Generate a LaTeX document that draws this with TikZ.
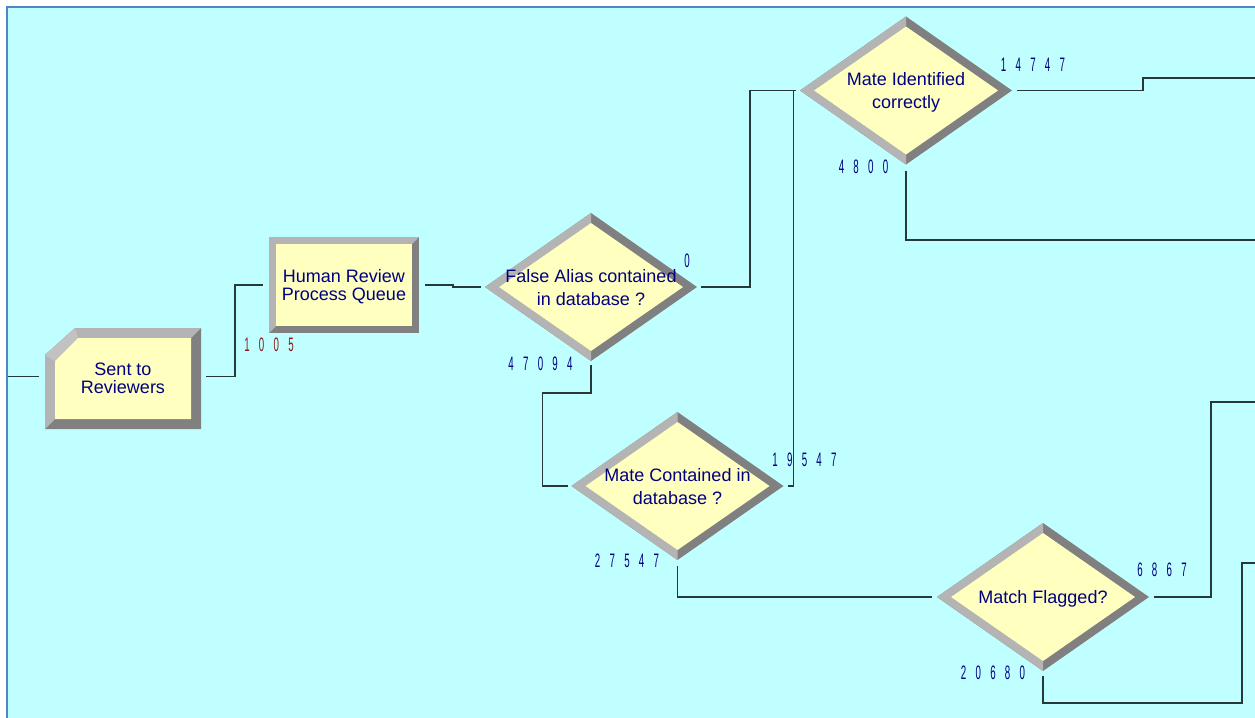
\documentclass[tikz,border=0pt]{standalone}
\usepackage{fontspec}
\setmainfont{Liberation Sans}
\usepackage{graphicx}
\usetikzlibrary{calc,shapes.geometric}

\definecolor{canvas}{HTML}{C0FFFF}
\definecolor{frameblue}{HTML}{4F86C6}
\definecolor{bevlight}{HTML}{B4B4B4}
\definecolor{bevchamfer}{HTML}{C2C2C2}
\definecolor{bevdark}{HTML}{808080}
\definecolor{face}{HTML}{FFFFC0}
\definecolor{ink}{HTML}{000080}
\definecolor{cntred}{HTML}{8B1A1A}
\definecolor{wire}{HTML}{283838}

% narrow, widely spaced counter digits
\newcommand\cnt[1]{\scalebox{0.5}[1]{\fontsize{14.6pt}{15pt}\selectfont\spaceskip=13.9pt\relax #1}}

% decide module: bevelled diamond with its label
\newcommand\decide[3]{%
  \node[decshape] (#1) at (#2) {};
  \fill[bevdark] (#1.north) -- (#1.east) -- (#1.south) -- (#1.west) -- cycle;
  \fill[bevlight] (#1.west) -- (#1.north) -- ($(#1)+(0,-64)$) -- ($(#1)+(-92,0)$)
      -- ($(#1)+(0,64)$) -- (#1.south) -- cycle;
  \fill[face] ($(#1)+(0,-64)$) -- ($(#1)+(92,0)$) -- ($(#1)+(0,64)$) -- ($(#1)+(-92,0)$) -- cycle;
  \node[declbl] (#1-t) at (#1) {#3};
}

\begin{document}
\begin{tikzpicture}[x=0.75pt,y=-0.75pt,
  conn/.style={draw=wire, line width=0.9pt},
  declbl/.style={text=ink, font=\fontsize{13.5pt}{17.25pt}\selectfont, align=center, inner sep=0pt, text depth=0pt},
  boxlbl/.style={text=ink, font=\fontsize{13.5pt}{13.5pt}\selectfont, align=center, inner sep=0pt, text depth=0pt},
  count/.style={text=ink, inner sep=0pt},
  decshape/.style={diamond, minimum width=159pt, minimum height=111pt, inner sep=0pt, outer sep=0pt},
  boxshape/.style={rectangle, inner sep=0pt, outer sep=0pt}]

\useasboundingbox (0,0) rectangle (1255,717);

% canvas and frame
\fill[white] (0,0) rectangle (1255,717);
\fill[canvas] (7,7) rectangle (1256,718);
\draw[frameblue, line width=1.5pt] (7,718) -- (7,7) -- (1256,7);

% create module: Sent to Reviewers
\node[boxshape, minimum width=117pt, minimum height=75.75pt] (sr) at (123,378.5) {};
\fill[bevdark] (sr.south west) -- ($(sr.north west)+(0,27)$) -- ($(sr.north west)+(30,0)$)
   -- (sr.north east) -- (sr.south east) -- cycle;
\fill[bevlight] (sr.south west) -- ($(sr.north west)+(0,27)$) -- ($(sr.north west)+(30,0)$)
   -- (sr.north east) -- ($(sr.north east)+(-10,10)$) -- ($(sr.north west)+(33,10)$)
   -- ($(sr.north west)+(10,33)$) -- ($(sr.south west)+(10,-10)$) -- cycle;
\fill[bevchamfer] ($(sr.north west)+(0,27)$) -- ($(sr.north west)+(30,0)$)
   -- ($(sr.north west)+(33,10)$) -- ($(sr.north west)+(10,33)$) -- cycle;
\fill[face] ($(sr.north west)+(10,33)$) -- ($(sr.north west)+(33,10)$) -- ($(sr.north east)+(-10,10)$)
   -- ($(sr.south east)+(-10,-10)$) -- ($(sr.south west)+(10,-10)$) -- cycle;
\node[boxlbl] (sr-t) at (sr) {Sent to\\Reviewers};

% process module: Human Review Process Queue
\node[boxshape, minimum width=112.5pt, minimum height=72pt] (hr) at (344,285) {};
\fill[bevdark] (hr.south west) rectangle (hr.north east);
\fill[bevlight] (hr.south west) -- (hr.north west) -- (hr.north east) -- ($(hr.north east)+(-7,7)$)
   -- ($(hr.north west)+(7,7)$) -- ($(hr.south west)+(7,-7)$) -- cycle;
\fill[face] ($(hr.north west)+(7,7)$) rectangle ($(hr.south east)+(-7,-7)$);
\node[boxlbl] (hr-t) at (hr) {Human Review\\Process Queue};

% decide modules
\decide{d1}{591,287}{False Alias contained\\in database ?}
\decide{d2}{906,90.5}{Mate Identified\\correctly}
\decide{d3}{677.5,486}{Mate Contained in\\database ?}
\decide{d4}{1043,597}{Match Flagged?}

% free ends of the connectors
\coordinate (in) at (8,376.5);
\coordinate (o1) at (1256,78);
\coordinate (o2) at (1256,240);
\coordinate (o3) at (1256,402);
\coordinate (o4) at (1256,563);

% connectors
\draw[conn] (in) -- ($(sr.west)+(-6,-2)$);
\draw[conn] ($(sr.east)+(5,-2)$) -- ++(29,0) |- ($(hr.west)+(-6,0)$);
\draw[conn] ($(hr.east)+(6,0)$) -- ++(28,0) -- ++(0,2) -- ($(d1.west)+(-4,0)$);
\draw[conn] ($(d1.east)+(4,0)$) -- ++(49,0) |- ($(d2.west)+(-4,0)$);
\draw[conn] ($(d3.east)+(4,0)$) -- ++(6,0) |- ($(d2.west)+(-4,0)$);
\draw[conn] ($(d1.south)+(0,4)$) -- ++(0,28) -- ++(-48.5,0) |- ($(d3.west)+(-4,0)$);
\draw[conn] ($(d2.east)+(5,0)$) -- ++(126,0) |- (o1);
\draw[conn] ($(d2.south)+(0,6)$) |- (o2);
\draw[conn] ($(d3.south)+(0,6)$) |- ($(d4.west)+(-5,0)$);
\draw[conn] ($(d4.east)+(5,0)$) -- ++(57,0) |- (o3);
\draw[conn] ($(d4.south)+(0,5)$) -- ++(0,27) -- ++(199,0) |- (o4);

% counters
\node[count, text=cntred] (c-sr) at (269,345) {\cnt{1 0 0 5}};
\node[count] (c-d1a) at (687,261) {\cnt{0}};
\node[count] (c-d1b) at (540.5,363.5) {\cnt{4 7 0 9 4}};
\node[count] (c-d2a) at (1033,65) {\cnt{1 4 7 4 7}};
\node[count] (c-d2b) at (863.5,167) {\cnt{4 8 0 0}};
\node[count] (c-d3a) at (804.5,460) {\cnt{1 9 5 4 7}};
\node[count] (c-d3b) at (627,561) {\cnt{2 7 5 4 7}};
\node[count] (c-d4a) at (1162,570) {\cnt{6 8 6 7}};
\node[count] (c-d4b) at (993,673) {\cnt{2 0 6 8 0}};

\end{tikzpicture}
\end{document}
